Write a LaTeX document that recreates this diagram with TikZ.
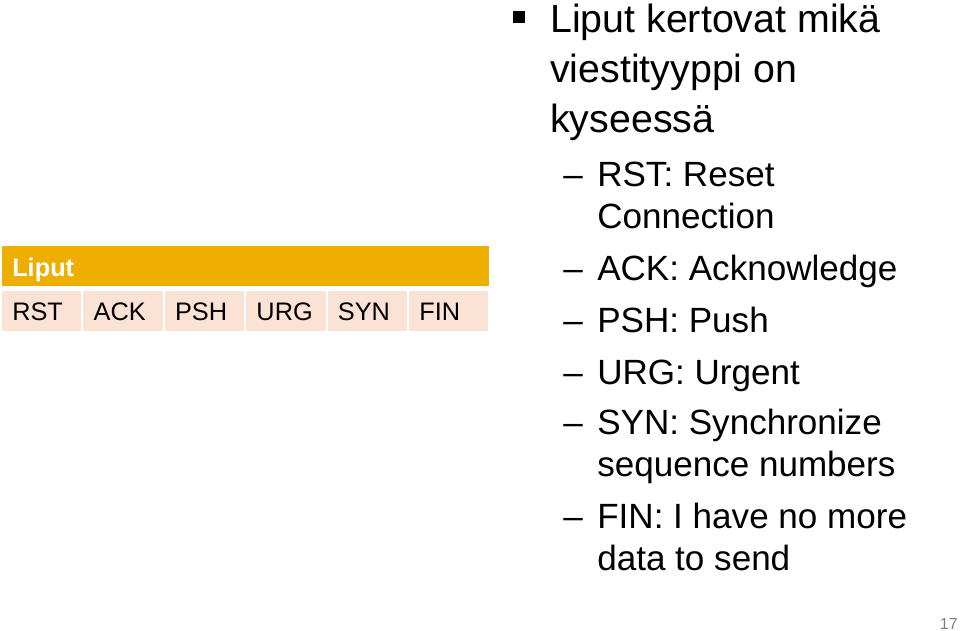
\documentclass[tikz,border=0pt]{standalone}
\usepackage{fontspec}
\setmainfont{Liberation Sans}
\definecolor{hdr}{HTML}{EEAE00}
\definecolor{cellc}{HTML}{FAE3D5}
\newcommand{\lines}[1]{\vtop{\halign{##\hfil\cr#1\crcr}}}
\begin{document}
\begin{tikzpicture}[x=0.75pt,y=-0.75pt,
  celltxt/.style={anchor=base west,inner sep=0,font=\fontsize{19}{20}\selectfont},
  lvlone/.style={anchor=base west,inner sep=0,font=\fontsize{29.5}{37.5}\selectfont},
  lvltwo/.style={anchor=base west,inner sep=0,font=\fontsize{26.3}{31.5}\selectfont}]
\useasboundingbox (0,0) rectangle (960,631);
\fill[hdr] (2,246) rectangle (489,286);
\node[anchor=base west,inner sep=0,text=white,font=\bfseries\fontsize{19}{20}\selectfont] (hd) at (12,276) {Liput};
\foreach \i/\t in {0/RST,1/ACK,2/PSH,3/URG,4/SYN,5/FIN}{
  \fill[cellc] ({2+81.4*\i},291) rectangle ({81.4+81.4*\i},331);
  \node[celltxt] (c\i) at ({12+81.4*\i},320) {\t};
}
\fill (513,11) rectangle (525,23);
\node[lvlone] (t0) at (550,33) {\lines{Liput kertovat mikä\cr viestityyppi on\cr kyseessä}};
\foreach \y/\n/\t in {187/a/{RST: Reset\cr Connection},280/b/{ACK: Acknowledge},332/c/{PSH: Push},384/d/{URG: Urgent},434/e/{SYN: Synchronize\cr sequence numbers},528/f/{FIN: I have no more\cr data to send}}{
  \node[lvltwo] (d\n) at (563,\y) {–};
  \node[lvltwo] (s\n) at (597,\y) {\lines{\t}};
}
\node[anchor=base east,inner sep=0,text=gray,font=\fontsize{12}{14}\selectfont] (pg) at (958,629) {17};
\end{tikzpicture}
\end{document}
